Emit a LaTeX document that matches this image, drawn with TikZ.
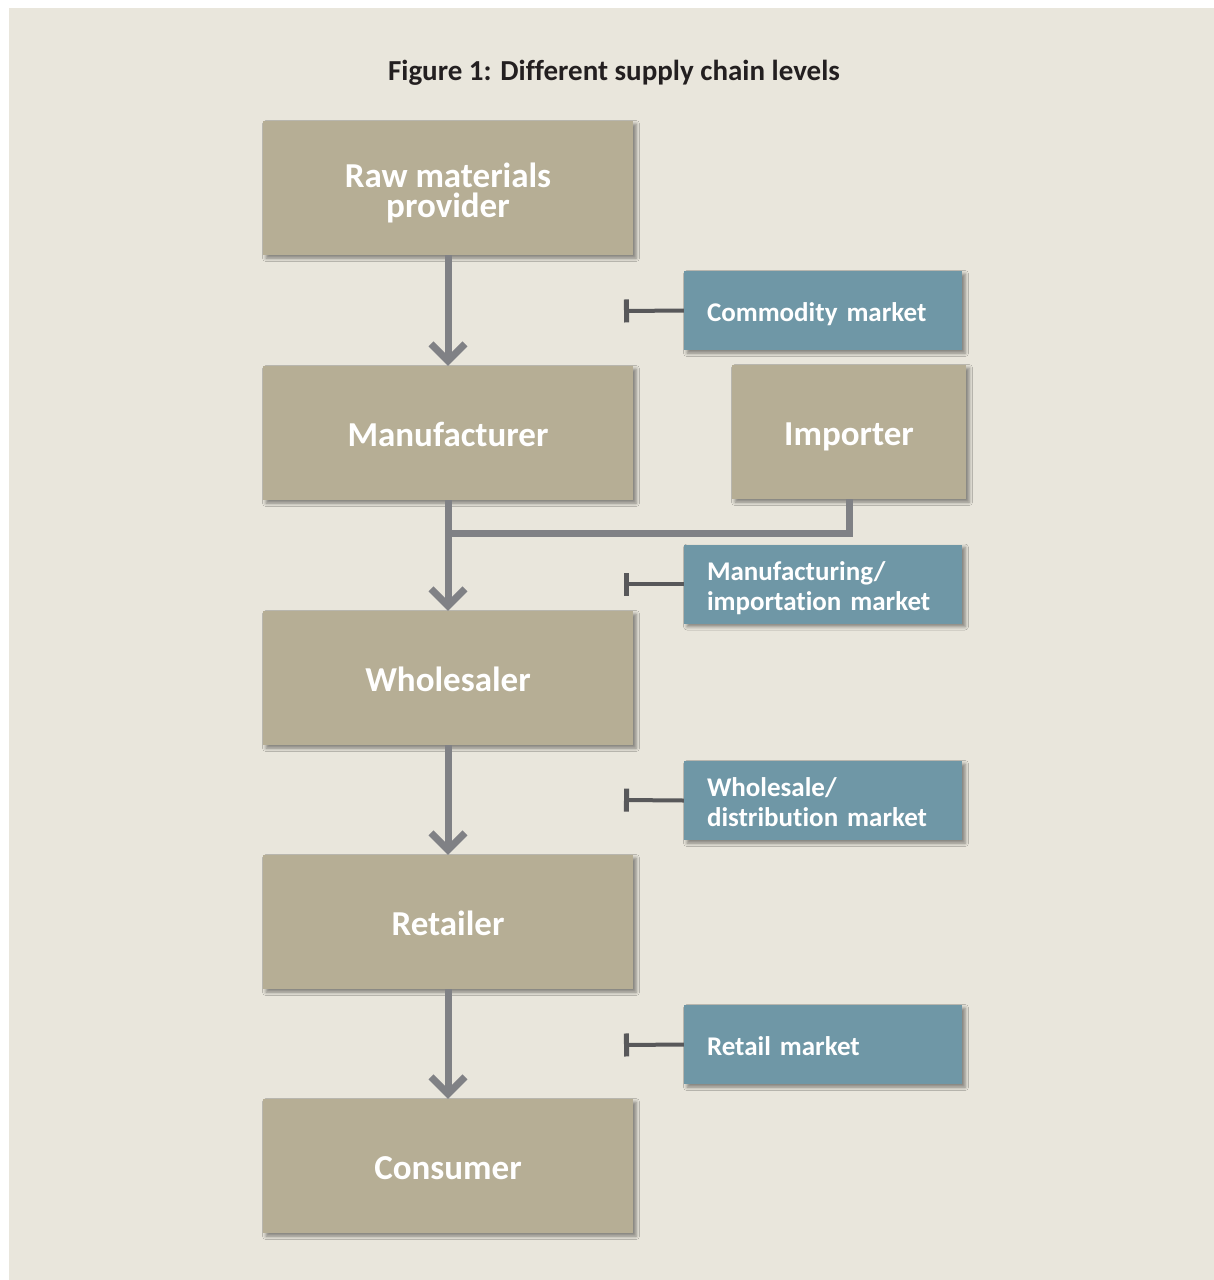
\documentclass[tikz,border=0pt]{standalone}
\usepackage{fontspec}
\setmainfont{Carlito}[Ligatures=NoCommon]
\usetikzlibrary{arrows.meta,shadows.blur}
\definecolor{bgc}{HTML}{E9E6DC}
\definecolor{tanc}{HTML}{B6AE95}
\definecolor{bluec}{HTML}{6F97A6}
\definecolor{arrc}{HTML}{808185}
\definecolor{barc}{HTML}{58585A}
\definecolor{titc}{HTML}{231F20}
\tikzset{
  boxshadow/.style={blur shadow={shadow xshift=3pt, shadow yshift=-3pt, shadow blur radius=3.5pt, shadow opacity=45}},
  lvl/.style={fill=tanc, minimum width=370pt, minimum height=134pt, inner sep=0pt,
    text=white, font=\bfseries\fontsize{35}{30}\selectfont, align=center,
    text height=26pt, text depth=0pt, boxshadow},
  lvltwo/.style={lvl, text height=58pt, text depth=0pt},
  mkt/.style={fill=bluec, minimum width=278pt, minimum height=79pt, inner xsep=23pt, inner ysep=0pt,
    text width=232pt, align=left, text=white, font=\bfseries\fontsize{27}{30}\selectfont,
    text height=21pt, text depth=0pt, boxshadow},
  mkttwo/.style={mkt, text height=0pt, text depth=8pt},
  flow/.style={draw=arrc, line width=7pt, -{Straight Barb[length=17pt, width=34pt]}},
  link/.style={draw=arrc, line width=7pt},
  tbar/.style={draw=barc, line width=4pt, -{Bar[width=23pt, line width=5pt]}}
}
\begin{document}
\begin{tikzpicture}[x=1pt,y=-1pt]
\useasboundingbox (0,0) rectangle (1214,1280);
\fill[white] (0,0) rectangle (1214,1280);
\fill[bgc] (9,8) rectangle (1214,1280);
\node[font=\bfseries\fontsize{29}{30}\selectfont, text=titc, anchor=base] (title) at (614,80) {Figure 1: Different supply chain levels};
\node[lvltwo] (raw) at (448,188) {Raw materials\\provider};
\node[lvl] (man) at (448,433) {Manufacturer};
\node[lvl, minimum width=234pt] (imp) at (849,432) {Importer};
\node[lvl] (who) at (448,678) {Wholesaler};
\node[lvl] (ret) at (448,922) {Retailer};
\node[lvl] (con) at (448,1166) {Consumer};
\node[mkt] (cm) at (823,310.5) {Commodity market};
\node[mkttwo] (mim) at (823,584) {Manufacturing/\\importation market};
\node[mkttwo] (wdm) at (823,800.5) {Wholesale/\\distribution market};
\node[mkt] (rm) at (823,1044.5) {Retail market};
\coordinate (j) at (448,533);
\coordinate (e1) at (624,311);
\coordinate (e2) at (624,584);
\coordinate (e3) at (624,800);
\coordinate (e4) at (624,1045);
\draw[flow] (raw.south) -- (man.north);
\draw[link] (imp.south) |- (j);
\draw[flow] (man.south) -- (who.north);
\draw[flow] (who.south) -- (ret.north);
\draw[flow] (ret.south) -- (con.north);
\draw[tbar] (cm.west) -- (e1);
\draw[tbar] (mim.west) -- (e2);
\draw[tbar] (wdm.west) -- (e3);
\draw[tbar] (rm.west) -- (e4);
\end{tikzpicture}
\end{document}
